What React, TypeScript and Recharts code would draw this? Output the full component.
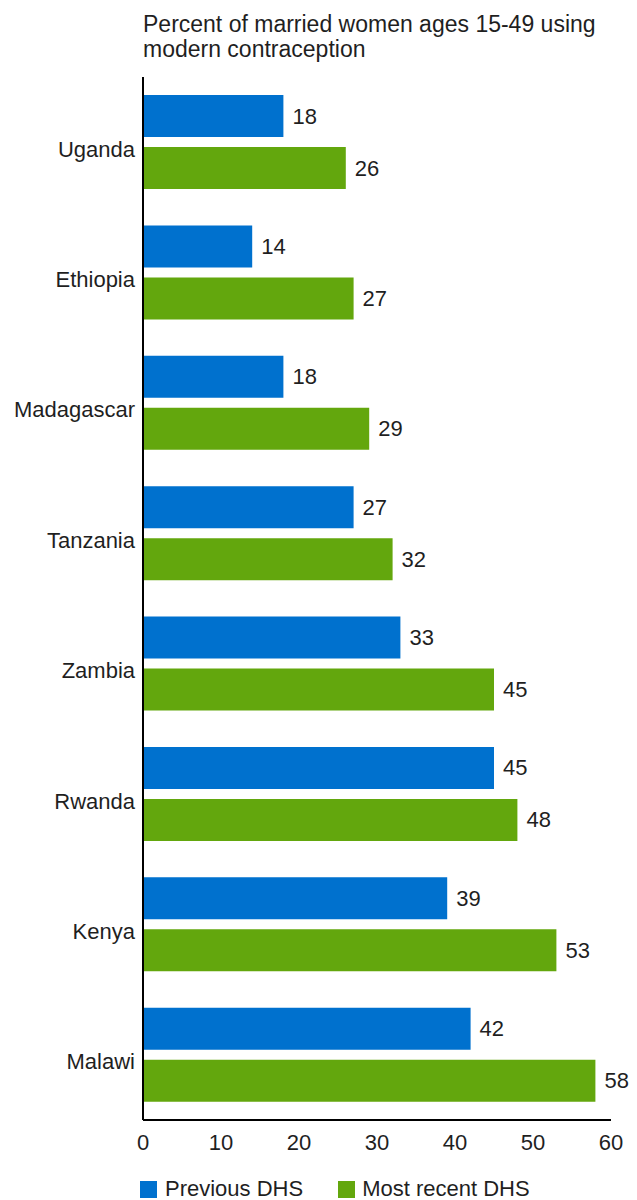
import React from 'react'
import { BarChart, Bar, XAxis, YAxis, LabelList } from 'recharts'

const countries = ['Uganda', 'Ethiopia', 'Madagascar', 'Tanzania', 'Zambia', 'Rwanda', 'Kenya', 'Malawi']
const previousDhs = [18, 14, 18, 27, 33, 45, 39, 42]
const recentDhs = [26, 27, 29, 32, 45, 48, 53, 58]
const xTicks = [0, 10, 20, 30, 40, 50, 60]

const BLUE = '#0071ce'
const GREEN = '#63a70d'
const INK = '#1f1f1f'
const FONT = '"Liberation Sans", Arial, sans-serif'

const data = countries.map((c, i) => ({ country: c, previous: previousDhs[i], recent: recentDhs[i] }))

function CountryTick({ x, y, payload }: any) {
  return (
    <text x={x} y={y + 7} textAnchor="end" dominantBaseline="central" fill={INK} fontSize={22} fontFamily={FONT}>
      {payload.value}
    </text>
  )
}

function valueLabel(props: any) {
  const { x, y, width, height, value } = props
  return (
    <text
      x={x + width + 9}
      y={y + height / 2}
      dominantBaseline="central"
      fill={INK}
      fontSize={22}
      fontFamily={FONT}
    >
      {value}
    </text>
  )
}

export default function App() {
  return (
    <div style={{ position: 'absolute', left: 0, top: 0, width: 637, height: 1200, background: '#fff', fontFamily: FONT, overflow: 'hidden' }}>
      <div style={{ position: 'absolute', left: 143, top: 12, fontSize: 23, lineHeight: '25px', color: INK, whiteSpace: 'nowrap' }}>
        Percent of married women ages 15-49 using
        <br />
        modern contraception
      </div>
      <BarChart
        width={637}
        height={1200}
        data={data}
        layout="vertical"
        margin={{ top: 77, right: 26, left: 0, bottom: 40 }}
        barSize={42}
        barGap={10}
      >
        <XAxis
          type="number"
          domain={[0, 60]}
          ticks={xTicks}
          height={40}
          tickLine={false}
          tickSize={0}
          tickMargin={14}
          axisLine={{ stroke: '#000', strokeWidth: 2 }}
          tick={{ fontSize: 22, fill: INK, fontFamily: FONT }}
        />
        <YAxis
          type="category"
          dataKey="country"
          width={143}
          tickLine={false}
          tickSize={0}
          tickMargin={8}
          axisLine={{ stroke: '#000', strokeWidth: 2 }}
          tick={<CountryTick />}
        />
        <Bar dataKey="previous" fill={BLUE} isAnimationActive={false}>
          <LabelList dataKey="previous" content={valueLabel} />
        </Bar>
        <Bar dataKey="recent" fill={GREEN} isAnimationActive={false}>
          <LabelList dataKey="recent" content={valueLabel} />
        </Bar>
      </BarChart>
      <div style={{ position: 'absolute', left: 140, top: 1179, height: 20, display: 'flex', alignItems: 'center', fontSize: 22, lineHeight: '20px', color: INK, whiteSpace: 'nowrap' }}>
        <span style={{ width: 17, height: 17, background: BLUE, display: 'inline-block', marginRight: 8 }} />
        <span>Previous DHS</span>
        <span style={{ width: 17, height: 17, background: GREEN, display: 'inline-block', marginLeft: 35, marginRight: 7 }} />
        <span>Most recent DHS</span>
      </div>
    </div>
  )
}
